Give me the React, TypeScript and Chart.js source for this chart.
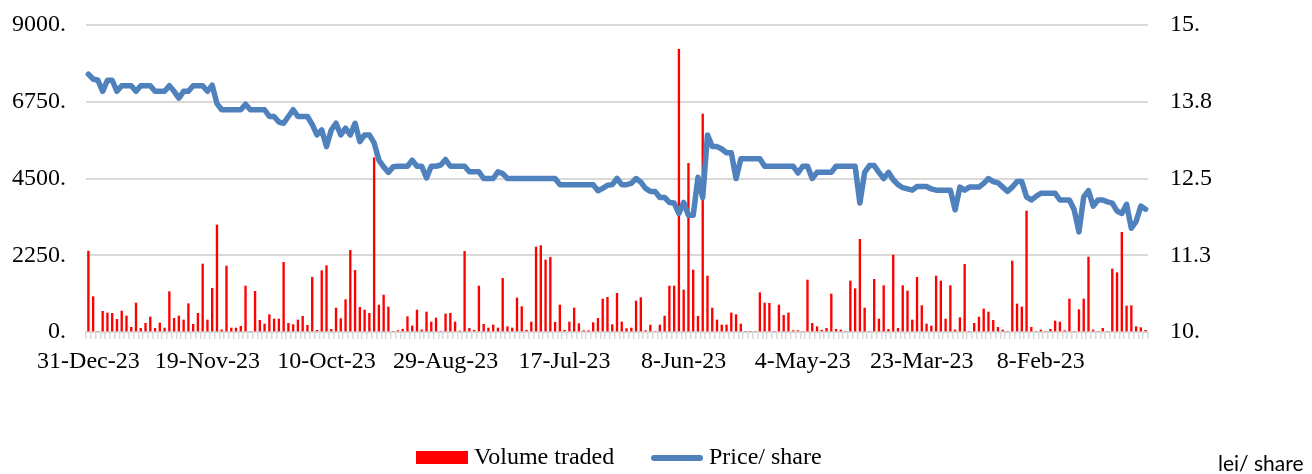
import React, { useEffect, useRef } from "react";
import { Chart, registerables } from "chart.js";

Chart.register(...registerables);

// Shown x-axis labels (one every 25 trading days)
const tickLabels = [
  "31-Dec-23", "19-Nov-23", "10-Oct-23", "29-Aug-23", "17-Jul-23",
  "8-Jun-23", "4-May-23", "23-Mar-23", "8-Feb-23",
];
const labelStep = 25;

// Volume traded (left axis)
const volume = [
  2374, 1036, 0, 606, 557, 547, 371, 615, 469, 137, 850, 107, 254, 440, 107, 264, 117, 1182, 400, 469, 352, 830, 225, 547, 1993,
  352, 1280, 3136, 60, 1934, 117, 117, 166, 1348, 0, 1192, 342, 234, 508, 381, 381, 2042, 254, 215, 352, 459, 195, 1602, 50, 1798,
  1944, 78, 703, 391, 948, 2394, 1807, 723, 645, 547, 5110, 791, 1084, 733, 0, 40, 80, 449, 176, 645, 60, 586, 293, 410, 0,
  528, 547, 293, 30, 2364, 107, 50, 1348, 225, 117, 205, 117, 1573, 156, 117, 997, 743, 50, 293, 2491, 2530, 2110, 2188, 283, 791,
  50, 293, 703, 244, 40, 40, 274, 400, 967, 1016, 215, 1133, 293, 98, 117, 909, 1006, 40, 205, 0, 205, 469, 1348, 1348, 8289,
  1231, 4944, 1817, 459, 6390, 1641, 703, 352, 205, 205, 557, 508, 234, 0, 0, 0, 1153, 850, 840, 0, 791, 489, 557, 40, 40,
  0, 1524, 254, 156, 50, 107, 1114, 78, 60, 0, 1495, 1270, 2716, 703, 0, 1544, 381, 1358, 78, 2257, 107, 1358, 1202, 352, 1602,
  772, 234, 176, 1641, 1495, 381, 1358, 60, 420, 1983, 0, 254, 440, 674, 586, 342, 137, 60, 0, 2081, 821, 733, 3547, 137, 0,
  60, 0, 78, 322, 293, 40, 967, 0, 655, 967, 2198, 60, 0, 107, 0, 1847, 1739, 2921, 762, 772, 156, 127, 50,
];

// Price per share (right axis)
const price = [
  14.20, 14.12, 14.10, 13.92, 14.10, 14.10, 13.92, 14.01, 14.01, 14.01,
  13.92, 14.01, 14.01, 14.01, 13.92, 13.92, 13.92, 14.01, 13.92, 13.81,
  13.92, 13.92, 14.01, 14.01, 14.01,
  13.92, 14.02, 13.72, 13.62, 13.62, 13.62, 13.62, 13.62, 13.71, 13.62,
  13.62, 13.62, 13.62, 13.51, 13.51, 13.42, 13.40, 13.51, 13.62, 13.51,
  13.51, 13.51, 13.38, 13.21, 13.29,
  13.02, 13.29, 13.40, 13.21, 13.32, 13.21, 13.40, 13.10, 13.21, 13.21,
  13.08, 12.80, 12.69, 12.60, 12.69, 12.70, 12.70, 12.70, 12.80, 12.70,
  12.70, 12.51, 12.70, 12.70, 12.72,
  12.81, 12.70, 12.70, 12.70, 12.70, 12.61, 12.61, 12.61, 12.50, 12.50,
  12.50, 12.61, 12.58, 12.50, 12.50, 12.50, 12.50, 12.50, 12.50, 12.50,
  12.50, 12.50, 12.50, 12.50, 12.40,
  12.40, 12.40, 12.40, 12.40, 12.40, 12.40, 12.40, 12.30, 12.34, 12.39,
  12.40, 12.50, 12.40, 12.40, 12.42, 12.50, 12.44, 12.34, 12.29, 12.29,
  12.19, 12.19, 12.11, 12.10, 11.93,
  12.11, 11.90, 11.90, 12.52, 12.19, 13.21, 13.02, 13.02, 12.98, 12.92,
  12.92, 12.50, 12.82, 12.82, 12.82, 12.82, 12.82, 12.70, 12.70, 12.70,
  12.70, 12.70, 12.70, 12.70, 12.59,
  12.70, 12.70, 12.50, 12.60, 12.60, 12.60, 12.60, 12.70, 12.70, 12.70,
  12.70, 12.70, 12.10, 12.60, 12.71, 12.71, 12.60, 12.50, 12.60, 12.48,
  12.40, 12.35, 12.33, 12.31, 12.37,
  12.37, 12.37, 12.33, 12.31, 12.31, 12.31, 12.31, 11.99, 12.36, 12.31,
  12.36, 12.36, 12.36, 12.42, 12.50, 12.45, 12.43, 12.36, 12.29, 12.36,
  12.45, 12.45, 12.20, 12.15, 12.21,
  12.26, 12.26, 12.26, 12.26, 12.15, 12.15, 12.15, 11.99, 11.63, 12.20,
  12.30, 12.05, 12.15, 12.15, 12.12, 12.10, 11.97, 11.93, 12.08, 11.69,
  11.80, 12.05, 12.00,
];

const leftTickLabels = ["0.", "2250.", "4500.", "6750.", "9000."];
const rightTickLabels = ["10.", "11.3", "12.5", "13.8", "15."];
const seriesNames = ["Volume traded", "Price/ share"];
const unitNote = "lei/ share";

const categories = price.map((_, i) =>
  i % labelStep === 0 ? tickLabels[i / labelStep] : ""
);

const SERIF = "'Liberation Serif', 'Times New Roman', serif";

const legendPlugin = {
  id: "customLegend",
  afterDraw(chart: any) {
    const ctx = chart.ctx;
    const [barDs, lineDs] = chart.data.datasets;
    ctx.save();
    ctx.font = `24px ${SERIF}`;
    ctx.textBaseline = "middle";
    ctx.textAlign = "left";
    ctx.fillStyle = barDs.backgroundColor;
    ctx.fillRect(416, 451, 52, 13);
    ctx.fillStyle = "#000";
    ctx.fillText(barDs.label, 474, 458);
    ctx.strokeStyle = lineDs.borderColor;
    ctx.lineWidth = 6;
    ctx.lineCap = "round";
    ctx.beginPath();
    ctx.moveTo(654, 458);
    ctx.lineTo(700, 458);
    ctx.stroke();
    ctx.fillText(lineDs.label, 709, 458);
    ctx.font = "21px Lato, sans-serif";
    ctx.fillText(unitNote, 1218, 464);
    ctx.restore();
  },
};

export default function App() {
  const canvasRef = useRef<HTMLCanvasElement | null>(null);

  useEffect(() => {
    document.body.style.margin = "0";
    const canvas = canvasRef.current;
    if (!canvas) return;
    const chart = new Chart(canvas, {
      type: "bar",
      data: {
        labels: categories,
        datasets: [
          {
            type: "bar",
            label: seriesNames[0],
            data: volume,
            backgroundColor: "#ff0000",
            borderWidth: 0,
            barThickness: 1.7,
            yAxisID: "yVol",
            order: 2,
          } as any,
          {
            type: "line",
            label: seriesNames[1],
            data: price,
            borderColor: "#4f81bd",
            backgroundColor: "#4f81bd",
            borderWidth: 5.5,
            pointRadius: 0,
            tension: 0,
            borderJoinStyle: "round",
            borderCapStyle: "round",
            yAxisID: "yPrice",
            order: 1,
          } as any,
        ],
      },
      options: {
        responsive: false,
        animation: false,
        layout: { padding: { top: 25, left: 0, right: 0, bottom: 0 } },
        plugins: {
          legend: { display: false },
          tooltip: { enabled: false },
        },
        scales: {
          x: {
            type: "category",
            offset: true,
            grid: {
              display: true,
              offset: true,
              drawOnChartArea: false,
              drawTicks: true,
              tickLength: 7,
              color: "#d9d9d9",
              lineWidth: 1.5,
            },
            border: { display: true, color: "#d9d9d9", width: 2 },
            ticks: {
              autoSkip: false,
              maxRotation: 0,
              minRotation: 0,
              padding: 8,
              color: "#000",
              font: { family: SERIF, size: 24 },
            },
            afterFit(scale: any) {
              scale.height = 142;
              scale.paddingLeft = 0;
              scale.paddingRight = 0;
            },
          },
          yVol: {
            type: "linear",
            position: "left",
            min: 0,
            max: 9000,
            grid: { color: "#d9d9d9", lineWidth: 2, drawTicks: false },
            border: { display: false },
            ticks: {
              stepSize: 2250,
              padding: 20,
              color: "#000",
              font: { family: SERIF, size: 24 },
              callback: (_v: any, i: number) => leftTickLabels[i],
            },
            afterFit(scale: any) {
              scale.width = 86;
              scale.paddingTop = 0;
              scale.paddingBottom = 0;
            },
          },
          yPrice: {
            type: "linear",
            position: "right",
            min: 10,
            max: 15,
            grid: { drawOnChartArea: false, drawTicks: false },
            border: { display: false },
            ticks: {
              stepSize: 1.25,
              padding: 22,
              color: "#000",
              font: { family: SERIF, size: 24 },
              callback: (_v: any, i: number) => rightTickLabels[i],
            },
            afterFit(scale: any) {
              scale.width = 164;
              scale.paddingTop = 0;
              scale.paddingBottom = 0;
            },
          },
        },
      },
      plugins: [legendPlugin],
    });
    return () => chart.destroy();
  }, []);

  return (
    <div style={{ width: 1312, height: 474, background: "#fff" }}>
      <canvas ref={canvasRef} width={1312} height={474} style={{ display: "block" }} />
    </div>
  );
}
